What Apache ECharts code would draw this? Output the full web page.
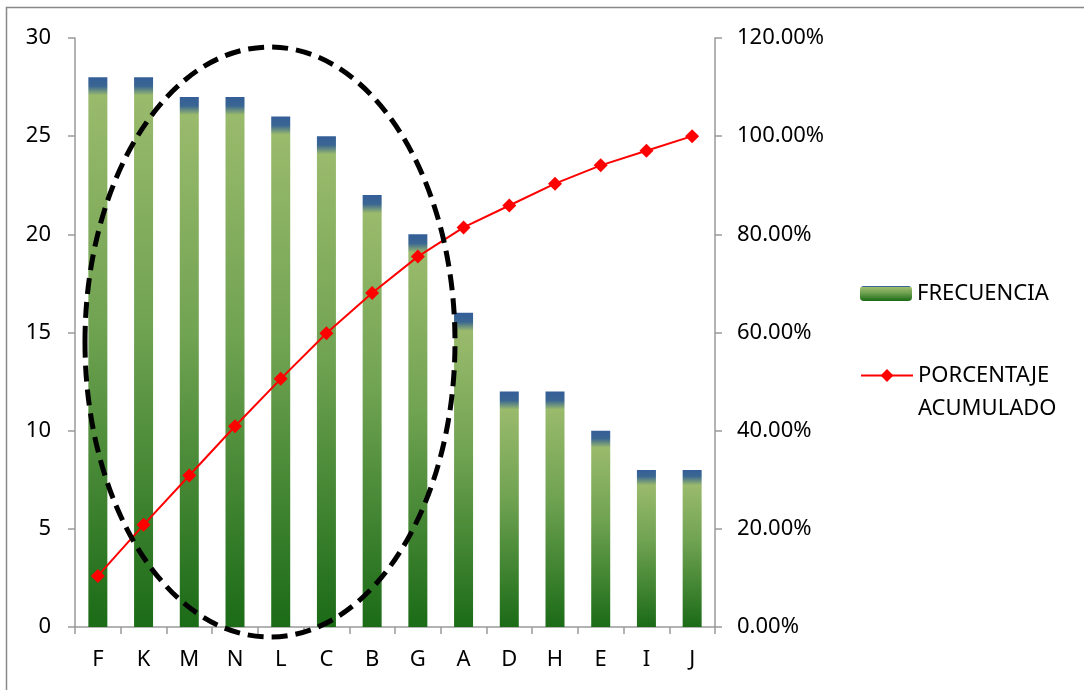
<!DOCTYPE html>
<html>
<head>
<meta charset="utf-8">
<script src="https://cdn.jsdelivr.net/npm/echarts@6/dist/echarts.min.js"></script>
<style>
  html, body { margin: 0; padding: 0; background: #fff; }
  #chart { width: 1084px; height: 690px; }
</style>
</head>
<body>
<div id="chart"></div>
<script>
  // datos
  const categorias = ['F', 'K', 'M', 'N', 'L', 'C', 'B', 'G', 'A', 'D', 'H', 'E', 'I', 'J'];
  const frecuencia = [28, 28, 27, 27, 26, 25, 22, 20, 16, 12, 12, 10, 8, 8];
  const porcentajeAcumulado = [10.41, 20.82, 30.86, 40.89, 50.56, 59.85, 68.03, 75.46, 81.41, 85.87, 90.33, 94.05, 97.03, 100];
  const ticksIzq = [0, 5, 10, 15, 20, 25, 30];
  const ticksDer = [0, 20, 40, 60, 80, 100, 120];

  const fuente = '"Noto Sans", sans-serif';
  const gris = '#9a9a9a';
  const tam = 22;

  // degradado de la barra: tapa azul arriba, verde claro a verde oscuro
  function degradado(cap, fin) {
    return new echarts.graphic.LinearGradient(0, 0, 0, 1, [
      { offset: 0, color: '#345e98' },
      { offset: cap, color: '#3a6692' },
      { offset: fin, color: '#9aba6c' },
      { offset: 0.45, color: '#70a352' },
      { offset: 1, color: '#1b6b17' }
    ]);
  }
  const pxPorUnidad = 589 / 30;

  const chart = echarts.init(document.getElementById('chart'));
  chart.setOption({
    backgroundColor: '#fff',
    animation: false,
    textStyle: { fontFamily: fuente },
    grid: { left: 75, right: 369, top: 38, bottom: 63 },
    legend: [{
      left: 860,
      top: 277,
      padding: 0,
      itemWidth: 52,
      itemHeight: 15,
      textStyle: { fontFamily: fuente, fontSize: tam, color: '#000', lineHeight: 33 },
      data: ['FRECUENCIA']
    }, {
      left: 860,
      top: 326,
      padding: 0,
      itemWidth: 52,
      itemHeight: 16,
      textStyle: { fontFamily: fuente, fontSize: tam, color: '#000', lineHeight: 33 },
      formatter: function () { return '\nPORCENTAJE\nACUMULADO'; },
      data: ['PORCENTAJE ACUMULADO']
    }],
    xAxis: {
      type: 'category',
      data: categorias,
      axisLine: { lineStyle: { color: gris, width: 1.5 } },
      axisTick: { show: true, length: 7, lineStyle: { color: gris, width: 1.5 } },
      axisLabel: { color: '#000', fontSize: tam, margin: 22, fontFamily: fuente },
      splitLine: { show: false }
    },
    yAxis: [{
      type: 'value',
      min: ticksIzq[0],
      max: ticksIzq[ticksIzq.length - 1],
      interval: 5,
      axisLine: { show: true, lineStyle: { color: gris, width: 1.5 } },
      axisTick: { show: true, length: 7, lineStyle: { color: gris, width: 1.5 } },
      axisLabel: { color: '#000', fontSize: tam, margin: 24, fontFamily: fuente },
      splitLine: { show: false }
    }, {
      type: 'value',
      position: 'right',
      min: ticksDer[0],
      max: ticksDer[ticksDer.length - 1],
      interval: 20,
      axisLine: { show: true, lineStyle: { color: gris, width: 1.5 } },
      axisTick: { show: true, length: 7, lineStyle: { color: gris, width: 1.5 } },
      axisLabel: {
        color: '#000', fontSize: tam, margin: 22, fontFamily: fuente,
        formatter: function (v) { return v.toFixed(2) + '%'; }
      },
      splitLine: { show: false }
    }],
    series: [{
      name: 'FRECUENCIA',
      type: 'bar',
      barWidth: 19,
      itemStyle: { color: degradado(0.04, 0.1) },
      data: frecuencia.map(function (v) {
        const h = v * pxPorUnidad;
        const c = Math.min(9, h * 0.04);
        return { value: v, itemStyle: { color: degradado(c / h, (c + 9) / h) } };
      })
    }, {
      name: 'PORCENTAJE ACUMULADO',
      type: 'line',
      yAxisIndex: 1,
      symbol: 'diamond',
      symbolSize: 14,
      showSymbol: true,
      lineStyle: { color: '#ff0000', width: 2 },
      itemStyle: { color: '#ff0000' },
      data: porcentajeAcumulado
    }],
    graphic: [{
      type: 'rect',
      silent: true,
      shape: { x: 6.5, y: 7.5, width: 1200, height: 800 },
      style: { fill: null, stroke: '#888', lineWidth: 1.5 }
    }, {
      type: 'ellipse',
      silent: true,
      z: 100,
      shape: { cx: 270, cy: 342, rx: 185, ry: 295 },
      style: { fill: null, stroke: '#000', lineWidth: 5, lineDash: [16, 8] }
    }]
  });
</script>
</body>
</html>
